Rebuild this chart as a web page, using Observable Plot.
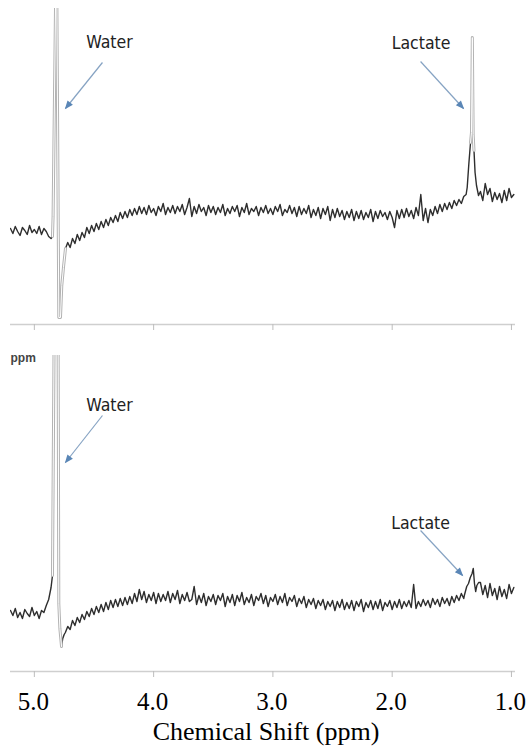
<!DOCTYPE html>
<html><head><meta charset="utf-8">
<script src="https://cdn.jsdelivr.net/npm/d3@7"></script>
<script src="https://cdn.jsdelivr.net/npm/@observablehq/plot@0.6"></script>
<style>body{margin:0;background:#fff;} #chart svg{display:block;}</style>
</head><body><div id="chart"></div>
<script>
// ---- data (chemical shift grid, ppm) ----
const ppmStart = 5.20, ppmStep = 0.02;
const ppmTicks = [5.0, 4.0, 3.0, 2.0, 1.0];
const xLabel = "Chemical Shift (ppm)";
const unitLabel = "ppm";

// top spectrum, intensity (a.u.) on the grid; null = see peak arrays
const topIntensity = [
  2,-3,4,-1,-5,3,0,-4,5,-2,
  1,-3,4,-4,2,-1,-6,-8,null,null,
  null,null,null,null,-12,-17,-8,-13,-4,-10,
  -2,-7,3,-3,5,-1,7,1,9,3,
  11,5,13,8,15,9,18,12,19,13,
  21,15,22,16,24,17,23,16,25,18,
  22,15,24,19,27,16,23,18,25,17,
  24,19,26,16,23,32,14,24,17,26,
  19,23,15,25,18,24,16,23,18,26,
  15,22,17,24,19,25,14,23,18,27,
  16,22,19,24,15,23,18,25,17,22,
  16,24,19,26,15,21,18,25,17,23,
  14,24,16,22,17,25,13,21,15,23,
  12,22,16,24,10,21,13,22,14,20,
  11,19,13,21,10,19,12,20,11,18,
  13,21,9,19,12,20,14,18,11,19,
  13,3,20,12,21,13,22,14,20,12,
  23,15,36,10,22,8,21,15,24,17,
  26,19,27,21,28,22,30,25,31,27,
  34,null,null,null,null,null,null,39,30,47,
  36,42,29,38,31,37,28,40,30,42,
  33,36
];
const topWaterPeak = [[4.848,-6],[4.843,14],[4.815,300],[4.795,-87],[4.781,-87],[4.770,-55],[4.756,-37],[4.739,-18]];
const topLactatePeak = [[1.380,36],[1.371,43],[1.357,67],[1.343,88],[1.335,98],[1.328,193],[1.321,96],[1.314,80],[1.305,58],[1.293,45],[1.276,35]];

// bottom spectrum
const bottomIntensity = [
  3,-2,5,-4,1,-5,4,0,-3,6,
  -2,2,-5,3,1,8,14,26,null,null,
  null,null,null,-19,-13,-16,-7,-12,-4,-9,
  -1,-6,2,-3,5,-1,7,1,9,2,
  11,4,13,6,14,7,15,8,16,9,
  17,10,20,12,24,14,22,11,19,13,
  21,10,20,12,19,13,22,11,20,14,
  23,10,19,13,21,12,14,27,9,18,
  11,20,8,17,12,19,9,18,13,20,
  7,17,11,19,8,18,12,21,9,16,
  11,19,8,17,13,20,10,18,7,16,
  12,19,9,17,11,20,8,16,12,18,
  7,15,10,17,6,14,9,15,5,13,
  8,14,4,12,7,13,3,12,6,14,
  4,11,5,13,3,12,7,14,2,11,
  6,13,4,12,5,14,3,11,7,13,
  4,12,6,14,5,12,7,13,6,29,
  5,12,7,14,8,13,6,15,9,14,
  7,16,10,15,8,17,11,18,13,20,
  15,null,null,null,null,null,null,31,19,28,
  16,30,18,25,14,27,17,24,15,29,
  20,26
];
const bottomWaterPeak = [[4.848,38],[4.810,700],[4.795,10],[4.786,-15],[4.772,-33],[4.762,-25],[4.750,-21]];
const bottomLactatePeak = [[1.395,18],[1.375,27],[1.360,30],[1.345,36],[1.330,40],[1.320,45],[1.310,30],[1.300,22],[1.290,28],[1.275,31]];

// annotations
const annLabels = ["Water", "Lactate"];
const topAnnText = [[4.370,188],[1.758,187]];
const topAnnArrow = [[4.429,168,4.739,122],[1.762,169,1.402,122]];
const bottomAnnText = [[4.370,208],[1.762,90]];
const bottomAnnArrow = [[4.429,198,4.739,151],[1.762,83,1.410,38]];

// ---- helpers ----
function buildSpectrum(grid, peaks) {
  const pts = [];
  grid.forEach((v, i) => { if (v != null) pts.push({ppm: +(ppmStart - i * ppmStep).toFixed(3), v}); });
  peaks.forEach(p => p.forEach(([ppm, v]) => pts.push({ppm, v})));
  pts.sort((a, b) => b.ppm - a.ppm);
  return pts;
}
const seg = (data, hi, lo) => data.filter(d => d.ppm <= hi && d.ppm >= lo);

const headColor = "#5a86b6";
function filledHead(color, context) {
  const m = d3.create("svg:marker")
    .attr("viewBox", "-5 -5 10 10")
    .attr("markerWidth", 9).attr("markerHeight", 9)
    .attr("orient", "auto").attr("refX", 3)
    .attr("fill", headColor).attr("stroke", "none");
  m.append("path").attr("d", "M-4,-3.2L4,0L-4,3.2Z");
  return m.node();
}

const sans = "'Liberation Sans Narrow','DejaVu Sans Condensed','Liberation Sans',sans-serif";
const serif = "'Liberation Serif','Times New Roman',serif";
const tickFmt = d3.format(".1f");

function annotationMarks(textPos, arrows) {
  const t = annLabels.map((s, i) => ({s, x: textPos[i][0], y: textPos[i][1]}));
  const a = arrows.map(([x1, y1, x2, y2]) => ({x1, y1, x2, y2}));
  return [
    Plot.link(a, {x1: "x1", y1: "y1", x2: "x2", y2: "y2", stroke: "#86a3c3", strokeWidth: 1.2, markerEnd: filledHead}),
    Plot.text(t, {x: "x", y: "y", text: "s", fontFamily: sans, fontSize: 17.5, fill: "#222"})
  ];
}

function spectrumMarks(data, grayRanges) {
  const marks = [Plot.line(data, {x: "ppm", y: "v", stroke: "#2e2e2e", strokeWidth: 1.4, clip: true})];
  grayRanges.forEach(([hi, lo]) => {
    const s = seg(data, hi, lo);
    marks.push(Plot.line(s, {x: "ppm", y: "v", stroke: "#b3b3b3", strokeWidth: 3, clip: true}));
    marks.push(Plot.line(s, {x: "ppm", y: "v", stroke: "#fff", strokeWidth: 1, clip: true}));
  });
  return marks;
}

const topData = buildSpectrum(topIntensity, [topWaterPeak, topLactatePeak]);
const bottomData = buildSpectrum(bottomIntensity, [bottomWaterPeak, bottomLactatePeak]);

const xScale = {domain: [5.2, 0.966]};
const topY = [-94, 222];
const bottomY = [-58, 258];

const topPlot = Plot.plot({
  width: 529, height: 340,
  marginLeft: 10, marginRight: 14, marginTop: 8, marginBottom: 16,
  x: xScale, y: {domain: topY, axis: null},
  style: {background: "white", overflow: "visible"},
  marks: [
    Plot.ruleY([topY[0]], {stroke: "#cfcfcf", strokeWidth: 1.5}),
    Plot.axisX({ticks: ppmTicks, tickSize: 6, tickFormat: () => "", stroke: "#bdbdbd", label: null}),
    ...spectrumMarks(topData, [[4.848, 4.739], [1.343, 1.314]]),
    ...annotationMarks(topAnnText, topAnnArrow)
  ]
});

const bottomPlot = Plot.plot({
  width: 529, height: 406,
  marginLeft: 10, marginRight: 14, marginTop: 15, marginBottom: 75,
  x: xScale, y: {domain: bottomY, axis: null},
  style: {background: "white", overflow: "visible"},
  marks: [
    Plot.ruleY([bottomY[0]], {stroke: "#cfcfcf", strokeWidth: 1.5}),
    Plot.axisX({ticks: ppmTicks, tickSize: 6, tickFormat: () => "", stroke: "#bdbdbd", label: null}),
    Plot.text(ppmTicks, {x: d => d, text: tickFmt, frameAnchor: "bottom", lineAnchor: "middle", dy: 30, dx: -1,
      fontSize: 25, fontFamily: serif, fill: "#000"}),
    Plot.text([xLabel], {frameAnchor: "bottom", lineAnchor: "middle", dy: 60, dx: 3, fontSize: 26, fontFamily: serif, fill: "#000"}),
    Plot.text([unitLabel], {frameAnchor: "top-left", lineAnchor: "middle", dy: 3, textAnchor: "start", fontSize: 12, fontWeight: "bold",
      fontFamily: "'Liberation Sans',Arial,sans-serif", fill: "#444"}),
    ...spectrumMarks(bottomData, [[4.848, 4.772]]),
    ...annotationMarks(bottomAnnText, bottomAnnArrow)
  ]
});

const chart = document.getElementById("chart");
chart.appendChild(topPlot);
chart.appendChild(bottomPlot);
</script>
</body></html>
